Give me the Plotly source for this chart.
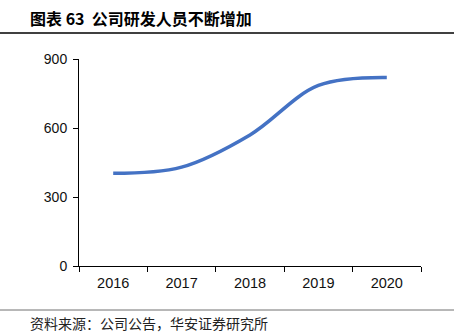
import plotly.graph_objects as go

years = ["2016", "2017", "2018", "2019", "2020"]
staff = [403, 430, 570, 785, 820]
y_ticks = [0, 300, 600, 900]
title_text = "<b>图表 63  公司研发人员不断增加</b>"
source_text = "资料来源：公司公告，华安证券研究所"

fig = go.Figure()
fig.add_trace(go.Scatter(
    x=years, y=staff, mode="lines",
    line=dict(color="#4472C4", width=3.5, shape="spline", smoothing=1.0),
    showlegend=False, hoverinfo="skip"))

fig.update_layout(
    width=468, height=335,
    margin=dict(l=79, r=47, t=59, b=69),
    paper_bgcolor="white", plot_bgcolor="white",
    font=dict(family="Liberation Sans, Arial, sans-serif", size=14, color="#111"),
    xaxis=dict(type="category", showline=True, linecolor="#000", linewidth=1,
               ticks="outside", ticklen=5, tickcolor="#000", tickson="boundaries",
               showgrid=False, tickfont=dict(size=14.5), range=[-0.5, 4.5],
               ticklabelstandoff=4),
    yaxis=dict(range=[0, 900], tickvals=y_ticks, showline=True, linecolor="#000",
               linewidth=1, ticks="outside", ticklen=5, tickcolor="#000",
               showgrid=False, zeroline=False, tickfont=dict(size=14),
               ticklabelstandoff=3),
    shapes=[
        dict(type="line", xref="paper", yref="paper", x0=-79/342, x1=(454-79)/342,
             y0=(335-69-33)/207, y1=(335-69-33)/207, line=dict(color="#404040", width=2)),
        dict(type="line", xref="paper", yref="paper", x0=-79/342, x1=(454-79)/342,
             y0=-(310-266)/207, y1=-(310-266)/207, line=dict(color="#707070", width=1)),
    ],
    annotations=[
        dict(text=title_text, xref="paper", yref="paper", x=(28-79)/342, y=(266-18)/207,
             xanchor="left", yanchor="middle", showarrow=False,
             font=dict(family="Noto Sans CJK SC", size=16, color="#000")),
        dict(text=source_text, xref="paper", yref="paper", x=(28-79)/342, y=-(323-266)/207,
             xanchor="left", yanchor="middle", showarrow=False,
             font=dict(family="Noto Sans CJK SC", size=14, color="#222")),
    ],
)
fig.write_html("out.html")
